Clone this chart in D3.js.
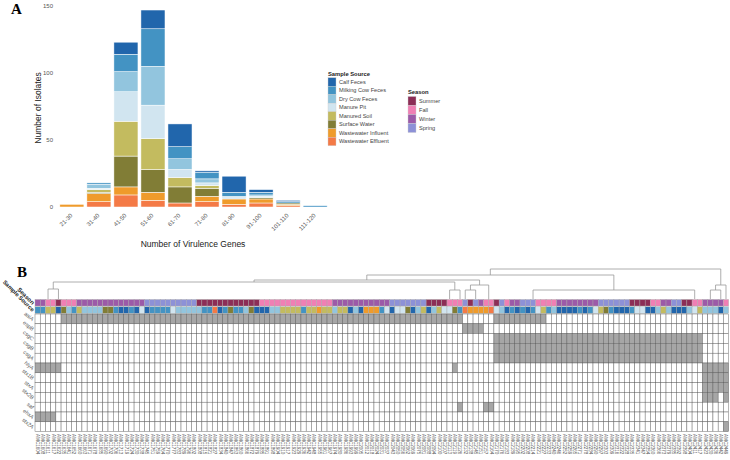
<!DOCTYPE html>
<html>
<head>
<meta charset="UTF-8">
<style>
  body { margin: 0; background: #fff; }
  svg { display: block; font-family: "Liberation Sans", Arial, sans-serif; }
</style>
</head>
<body>
<svg id="chart" width="730" height="460"></svg>
<script src="https://d3js.org/d3.v7.min.js"></script>
<script>
// ---------- panel A : isolates per virulence gene bin, stacked by sample source
const bins = ["21-30","31-40","41-50","51-60","61-70","71-80","81-90","91-100","101-110","111-120"];
const sourceNames = ["Calf Feces","Milking Cow Feces","Dry Cow Feces","Manure Pit","Manured Soil","Surface Water","Wastewater Influent","Wastewater Effluent"];
const sourceColors = ["#2166ac","#4393c3","#92c5de","#d1e5f0","#c3bb5f","#817d36","#ef9b2b","#f47a46"];
const calfFeces      = [0, 0,  9, 14, 17, 1, 12, 2, 1, 0];
const milkingCow     = [0, 1, 13, 28,  9, 5,  3, 2, 1, 1];
const dryCow         = [0, 3, 15, 29,  8, 3,  1, 1, 0, 0];
const manurePit      = [0, 1, 22, 25,  6, 2,  1, 1, 0, 0];
const manuredSoil    = [0, 2, 26, 23,  7, 2,  0, 0, 0, 0];
const surfaceWater   = [0, 1, 23, 17, 12, 6,  0, 1, 1, 0];
const wwInfluent     = [2, 6,  6,  6,  0, 4,  4, 3, 1, 0];
const wwEffluent     = [0, 4,  9,  5,  3, 4,  2, 3, 1, 0];
const sourceSeries = [calfFeces, milkingCow, dryCow, manurePit, manuredSoil, surfaceWater, wwInfluent, wwEffluent];
const yTicks = [0, 50, 100, 150];

const seasonNames = ["Summer","Fall","Winter","Spring"];
const seasonColors = ["#8c2d56","#f07fb4","#9c5aa8","#8d91d7"];

// ---------- panel B : gene presence heatmap
const geneNames = ["aaiA","espB","csgC","csgB","csgA","hlyA","stx1B","stxA","stx2B","saf","ehxA","stx2A"];
// column ranges (inclusive) where each gene is present
const geneRanges = [
  [[5,81],[88,97]],
  [[82,85]],
  [[88,127]],
  [[88,127]],
  [[88,127]],
  [[0,4],[80,80],[128,132]],
  [[128,132]],
  [[128,132]],
  [[128,130],[132,132]],
  [[81,81],[86,87]],
  [[0,3]],
  [[132,132]]
];
const isolateIds = ("1604 1608 1611 1617 1622 1635 1641 1652 1660 1663 1671 1678 1685 1690 1702 1706 1713 1719 1724 1730 " +
  "1738 1745 1751 1759 1764 1770 1777 1783 1789 1796 1802 1808 1815 1821 1827 1834 1840 1847 1853 1860 " +
  "1866 1872 1879 1885 1891 1898 1904 1910 1917 1923 1929 1936 1942 1948 1955 1961 1967 1974 1980 1986 " +
  "1993 1999 2005 2012 2018 2024 2031 2037 2043 2050 2056 2062 2069 2075 2081 2088 2094 2100 2107 2113 " +
  "2119 2126 2132 2138 2145 2151 2157 2164 2170 2176 2183 2189 2195 2202 2208 2214 2221 2227 2233 2240 " +
  "2246 2252 2259 2265 2271 2278 2284 2290 2297 2303 2309 2316 2322 2328 2335 2341 2347 2354 2360 2366 " +
  "2373 2379 2385 2392 2398 2404 2411 2417 2423 2430 2436 2442 2449").split(" ").map(d => "AMC" + d);
const isolateSeason = ("Wi Wi Fa Fa Su Fa Fa Fa Wi Wi Wi Wi Wi Wi Wi Wi Wi Wi Wi Wi " +
  "Wi Sp Sp Sp Sp Sp Sp Sp Sp Sp Sp Su Su Su Su Su Su Su Su Su " +
  "Su Su Su Fa Fa Fa Fa Fa Fa Fa Fa Fa Fa Fa Fa Fa Fa Wi Wi Wi " +
  "Wi Wi Wi Wi Wi Wi Wi Wi Sp Sp Sp Sp Sp Sp Sp Su Su Su Su Fa " +
  "Fa Fa Sp Su Sp Wi Fa Fa Su Sp Fa Wi Wi Sp Sp Sp Fa Fa Fa Fa " +
  "Wi Wi Wi Wi Wi Wi Wi Wi Sp Sp Sp Sp Sp Sp Su Su Su Su Fa Fa " +
  "Wi Wi Sp Sp Su Su Fa Fa Wi Wi Wi Wi Fa").split(" ");
const isolateSource = ("MC MC MS MS CF SW DC MC MS DC DC DC DC SW SW MC CF CF MC CF " +
  "MP CF MC MC MC MC MP DC DC DC DC DC MC MC WE CF MC SW MC MC " +
  "DC SW CF CF CF DC DC MS MS MS MS MC MS MS WI MS MS DC MS MS " +
  "CF DC CF WI WI WI MC MP CF MP MP SW CF DC MS CF DC MS MP MP " +
  "SW MC WE WI WI WI WI WE MP DC CF MC CF MC CF MC MP MS MC DC " +
  "CF CF CF CF MC CF MC MP MS SW MC CF CF CF MC MP MP CF CF DC " +
  "MS DC CF CF CF DC MP MS DC DC DC CF DC").split(" ");
const seasonCodes = ["Su","Fa","Wi","Sp"];
const sourceCodes = ["CF","MC","DC","MP","MS","SW","WI","WE"];

// column dendrogram: leaf = column index, node = merge height
const dendro = {h: 30, children: [
  {h: 24, children: [
    {h: 19, children: [
      {h: 17, children: [
        {h: 10, children: [{col: 2}, {col: 4}]},
        {h: 9, children: [{col: 79}, {col: 81}]}
      ]},
      {h: 14, children: [
        {h: 9, children: [{col: 82}, {col: 84}]},
        {col: 86.5}
      ]}
    ]},
    {h: 9, children: [{col: 95}, {col: 126}]}
  ]},
  {h: 14, children: [
    {h: 9, children: [{col: 129}, {col: 131}]},
    {col: 132}
  ]}
]};

const svg = d3.select("#chart");

// ================= PANEL A =================
const gA = svg.append("g");
const x = d3.scaleBand().domain(bins).range([58.5, 328.5]).paddingInner(0.11).paddingOuter(0.05);
const y = d3.scaleLinear().domain([0, 150]).range([207, 6]);

const table = bins.map((b, i) => {
  const row = {bin: b};
  sourceNames.forEach((s, k) => row[s] = sourceSeries[k][i]);
  return row;
});
const stackKeys = sourceNames.slice().reverse(); // effluent at bottom
const stacked = d3.stack().keys(stackKeys)(table);
const colorOf = d3.scaleOrdinal().domain(sourceNames).range(sourceColors);

gA.selectAll("g.layer")
  .data(stacked)
  .enter().append("g")
  .attr("class", "layer")
  .attr("fill", d => colorOf(d.key))
  .selectAll("rect")
  .data(d => d)
  .enter().append("rect")
  .attr("x", d => x(d.data.bin))
  .attr("width", x.bandwidth())
  .attr("y", d => y(d[1]))
  .attr("height", d => Math.max(0, y(d[0]) - y(d[1])))
  .attr("stroke", "#fff")
  .attr("stroke-width", 0.5);

// y axis labels (no lines)
gA.selectAll("text.ytick")
  .data(yTicks)
  .enter().append("text")
  .attr("x", 53)
  .attr("y", d => y(d))
  .attr("dy", "0.35em")
  .attr("text-anchor", "end")
  .attr("font-size", 6)
  .attr("fill", "#555")
  .text(d => d);

gA.selectAll("text.xtick")
  .data(bins)
  .enter().append("text")
  .attr("transform", d => "translate(" + (x(d) + x.bandwidth() / 2 + 1) + ",216) rotate(-45)")
  .attr("text-anchor", "end")
  .attr("font-size", 6)
  .attr("fill", "#555")
  .text(d => d);

gA.append("text")
  .attr("transform", "translate(41,108) rotate(-90)")
  .attr("text-anchor", "middle")
  .attr("font-size", 8.5)
  .attr("fill", "#222")
  .text("Number of Isolates");

gA.append("text")
  .attr("x", 193).attr("y", 247)
  .attr("text-anchor", "middle")
  .attr("font-size", 8.5)
  .attr("fill", "#222")
  .text("Number of Virulence Genes");

svg.append("text")
  .attr("x", 11).attr("y", 14)
  .attr("font-family", "'Liberation Serif', 'DejaVu Serif', serif")
  .attr("font-weight", "bold")
  .attr("font-size", 15)
  .text("A");

// legends
function legend(g, title, names, colors, x0, yTitle, y0, sh) {
  g.append("text").attr("x", x0).attr("y", yTitle)
    .attr("font-size", 5.8).attr("font-weight", "bold").attr("fill", "#222").text(title);
  const item = g.selectAll("g.item").data(names).enter().append("g").attr("class", "item");
  item.append("rect")
    .attr("x", x0).attr("y", (d, i) => y0 + i * sh)
    .attr("width", 8).attr("height", sh)
    .attr("fill", (d, i) => colors[i])
    .attr("stroke", "#ccc").attr("stroke-width", 0.4);
  item.append("text")
    .attr("x", x0 + 11).attr("y", (d, i) => y0 + (i + 0.5) * sh)
    .attr("dy", "0.35em")
    .attr("font-size", 5.6).attr("fill", "#444")
    .text(d => d);
}
legend(svg.append("g"), "Sample Source", sourceNames, sourceColors, 328, 75.5, 77.7, 8.5);
legend(svg.append("g"), "Season", seasonNames, seasonColors, 408, 94, 96.5, 9);

// ================= PANEL B =================
const gB = svg.append("g");
const nCol = isolateIds.length;
const hx = d3.scaleBand().domain(d3.range(nCol)).range([35, 728.6]);
const hxLin = d3.scaleLinear().domain([0, nCol]).range([35, 728.6]);
const hy = d3.scaleBand().domain(geneNames).range([314, 431.6]);
const dy = d3.scaleLinear().domain([0, 30]).range([299, 269]);

svg.append("text")
  .attr("x", 17).attr("y", 277)
  .attr("font-family", "'Liberation Serif', 'DejaVu Serif', serif")
  .attr("font-weight", "bold")
  .attr("font-size", 15)
  .text("B");

// dendrogram
function place(node) {
  if (node.children) {
    node.children.forEach(place);
    node.x = d3.mean(node.children, c => c.x);
    node.y = dy(node.h);
  } else {
    node.x = hxLin(node.col + 0.5);
    node.y = dy(0);
  }
}
place(dendro);
const links = [];
(function walk(n) {
  if (!n.children) return;
  links.push([n.children[0].x, n.y, n.children[1].x, n.y]);
  n.children.forEach(c => { links.push([c.x, n.y, c.x, c.y]); walk(c); });
})(dendro);
gB.append("g").selectAll("line")
  .data(links)
  .enter().append("line")
  .attr("x1", d => d[0]).attr("y1", d => d[1])
  .attr("x2", d => d[2]).attr("y2", d => d[3])
  .attr("stroke", "#999").attr("stroke-width", 0.8);

// annotation strips
const seasonColorOf = d3.scaleOrdinal().domain(seasonCodes).range(seasonColors);
const sourceColorOf = d3.scaleOrdinal().domain(sourceCodes).range(sourceColors);
gB.append("g").selectAll("rect")
  .data(isolateSeason)
  .enter().append("rect")
  .attr("x", (d, i) => hx(i)).attr("y", 299.5)
  .attr("width", hx.bandwidth()).attr("height", 6.5)
  .attr("fill", d => seasonColorOf(d))
  .attr("stroke", "#aaa").attr("stroke-width", 0.4);
gB.append("g").selectAll("rect")
  .data(isolateSource)
  .enter().append("rect")
  .attr("x", (d, i) => hx(i)).attr("y", 306.8)
  .attr("width", hx.bandwidth()).attr("height", 6.5)
  .attr("fill", d => sourceColorOf(d))
  .attr("stroke", "#aaa").attr("stroke-width", 0.4);

// heatmap cells
const cells = [];
geneNames.forEach((g, r) => {
  d3.range(nCol).forEach(c => {
    const present = geneRanges[r].some(rg => c >= rg[0] && c <= rg[1]);
    cells.push({gene: g, col: c, present: present});
  });
});
gB.append("g").selectAll("rect")
  .data(cells)
  .enter().append("rect")
  .attr("x", d => hx(d.col)).attr("y", d => hy(d.gene))
  .attr("width", hx.bandwidth()).attr("height", hy.bandwidth())
  .attr("fill", d => d.present ? "#a6a6a6" : "#fff")
  .attr("stroke", "#5f5f5f").attr("stroke-width", 0.45);

// row labels
gB.append("g").selectAll("text")
  .data(geneNames)
  .enter().append("text")
  .attr("transform", d => "translate(32," + (hy(d) + hy.bandwidth() * 0.75) + ") rotate(40)")
  .attr("text-anchor", "end")
  .attr("font-size", 5.4)
  .attr("fill", "#555")
  .text(d => d);

gB.append("text")
  .attr("transform", "translate(32,305) rotate(45)")
  .attr("text-anchor", "end")
  .attr("font-size", 6).attr("font-weight", "bold").attr("fill", "#222")
  .text("Season");
gB.append("text")
  .attr("transform", "translate(32,312) rotate(45)")
  .attr("text-anchor", "end")
  .attr("font-size", 5.8).attr("font-weight", "bold").attr("fill", "#222")
  .text("Sample Source");

// column labels
gB.append("g").selectAll("text")
  .data(isolateIds)
  .enter().append("text")
  .attr("transform", (d, i) => "translate(" + (hx(i) + hx.bandwidth() / 2) + ",434) rotate(90)")
  .attr("dy", "0.35em")
  .attr("font-size", 4.6)
  .attr("fill", "#555")
  .text(d => d);
</script>
</body>
</html>
